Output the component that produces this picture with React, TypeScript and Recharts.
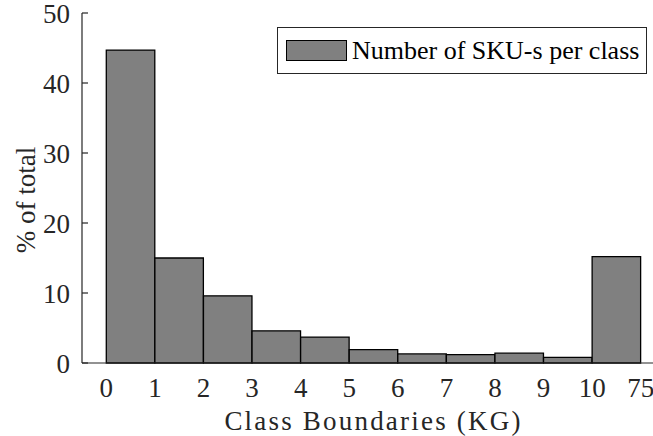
import React from 'react';
import { ComposedChart, Bar, XAxis, YAxis, Legend } from 'recharts';

// class index (bar centres sit between boundaries) and share of SKU-s per class
const classCentres = [0.5, 1.5, 2.5, 3.5, 4.5, 5.5, 6.5, 7.5, 8.5, 9.5, 10.5];
const skuShare = [44.7, 15.0, 9.6, 4.6, 3.7, 1.9, 1.3, 1.2, 1.4, 0.8, 15.2];
const boundaryTicks = [0, 1, 2, 3, 4, 5, 6, 7, 8, 9, 10, 11];
const boundaryLabels = ['0', '1', '2', '3', '4', '5', '6', '7', '8', '9', '10', '75'];
const yTicks = [0, 10, 20, 30, 40, 50];

const data = classCentres.map((x, i) => ({ x, share: skuShare[i] }));

const FONT = '"Liberation Serif", "DejaVu Serif", serif';
const INK = '#262626';

const LegendBox = () => (
  <div
    style={{
      display: 'flex', alignItems: 'center', boxSizing: 'border-box',
      width: 370, height: 47, border: `1.3px solid ${INK}`, background: '#fff',
      padding: '0 0 0 8px', fontFamily: FONT, fontSize: 26, color: '#000',
    }}
  >
    <span style={{ display: 'inline-block', width: 61, height: 21, background: '#808080', border: '1.3px solid #000', boxSizing: 'border-box', marginRight: 5 }} />
    <span style={{ whiteSpace: 'nowrap' }}>Number of SKU-s per class</span>
  </div>
);

const YLabel = ({ viewBox }: any) => {
  const cx = viewBox.x + 26;
  const cy = viewBox.y + viewBox.height / 2 + 12;
  return (
    <text x={cx} y={cy} transform={`rotate(-90 ${cx} ${cy})`} textAnchor="middle" dominantBaseline="central"
      fontFamily={FONT} fontSize={27} fill={INK}>
      % of total
    </text>
  );
};

export default function App() {
  return (
    <div style={{ position: 'absolute', left: 0, top: 0, width: 653, height: 436, overflow: 'hidden', background: '#fff', fontFamily: FONT }}>
      <ComposedChart width={665} height={436} data={data} margin={{ top: 13, right: 0, bottom: 0, left: 0 }}>
        <XAxis
          xAxisId="b" dataKey="x" type="number" domain={[-0.5, 11.5]} ticks={boundaryTicks}
          tickFormatter={(v: number) => boundaryLabels[v]} interval={0}
          tickLine={false} tickSize={0} tickMargin={15} height={73}
          axisLine={{ stroke: INK, strokeWidth: 1.2 }}
          tick={{ fill: INK, fontSize: 27, fontFamily: FONT }}
          label={{ value: 'Class Boundaries (KG)', position: 'insideBottom', offset: 6, fill: INK, fontSize: 27, fontFamily: FONT, style: { letterSpacing: 2.2 } }}
        />
        <XAxis
          xAxisId="t" orientation="top" type="number" domain={[-0.5, 11.5]} ticks={boundaryTicks}
          interval={0} tick={false} tickSize={-6} height={0}
          tickLine={{ stroke: INK, strokeWidth: 1.2 }} axisLine={{ stroke: INK, strokeWidth: 1.2 }}
        />
        <YAxis
          type="number" domain={[0, 50]} ticks={yTicks} interval={0} width={82}
          tickSize={-6} tickMargin={18}
          tickLine={{ stroke: INK, strokeWidth: 1.2 }} axisLine={{ stroke: INK, strokeWidth: 1.2 }}
          tick={{ fill: INK, fontSize: 27, fontFamily: FONT }}
          label={<YLabel />}
        />
        <Legend
          content={<LegendBox />}
          layout="vertical" align="center" verticalAlign="middle"
          wrapperStyle={{ position: 'absolute', left: 277, top: 27, width: 370, height: 47 }}
        />
        <Bar
          xAxisId="b" dataKey="share" name="Number of SKU-s per class" barSize={48.5}
          fill="#808080" stroke="#000" strokeWidth={1.3} isAnimationActive={false}
        />
      </ComposedChart>
    </div>
  );
}
